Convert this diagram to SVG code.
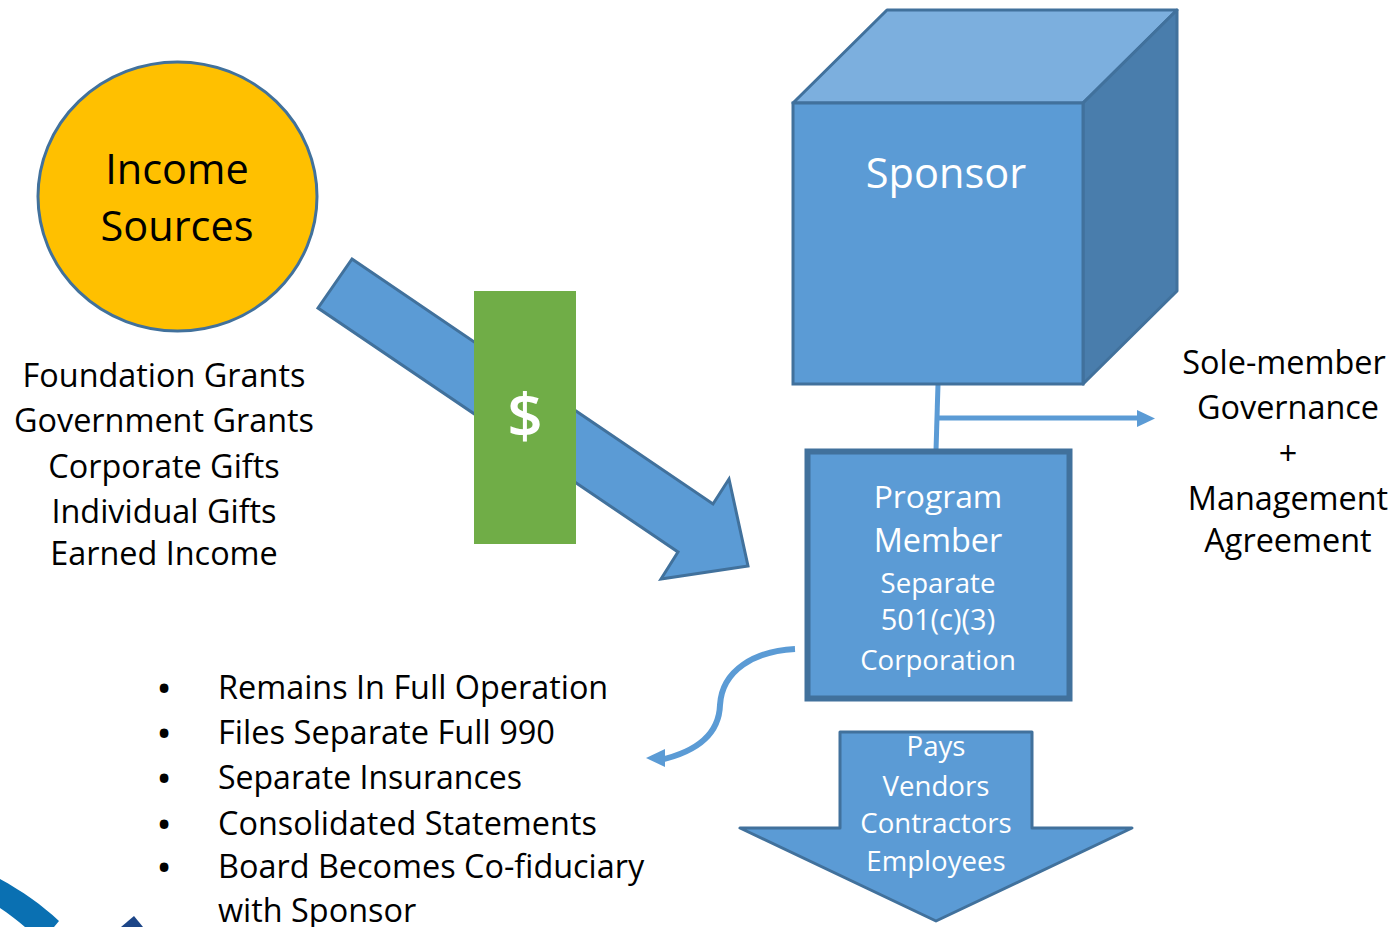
<svg xmlns="http://www.w3.org/2000/svg" width="1394" height="927" viewBox="0 0 1394 927">
<style>
text{font-family:"Open Sans","Noto Sans","Liberation Sans",sans-serif;text-anchor:middle}
.d{fill:#000;font-size:32.400px}
.w{fill:#fff}
.h{font-size:41.500px}
.m{font-size:27.600px}
.b{fill:#5B9BD5;stroke:#41719C;stroke-width:3;stroke-linejoin:miter}
.l{text-anchor:start;fill:#000;font-size:32.400px}
.u{fill:#000;font-size:31px;font-weight:700}
.c{fill:none;stroke:#5B9BD5;stroke-width:5}
.t{fill:#5B9BD5}
</style>
<rect width="1394" height="927" fill="#fff"/>
<g id="logo"><path d="M0 879C22 891 42 905 59 921L54 927H25C17 920 9 914 0 908Z" fill="#0A70B2"/><path d="M121 927L134 916L143 927Z" fill="#1C4587"/></g>
<g id="income"><ellipse cx="177.500" cy="196.500" rx="139.500" ry="134.500" fill="#FFC000" stroke="#41719C" stroke-width="3"/><text class="d h" x="177" y="184">Income</text><text class="d h" x="177" y="241">Sources</text></g>
<g id="sources-text"><text class="d" x="164" y="387">Foundation Grants</text><text class="d" x="164" y="432">Government Grants</text><text class="d" x="164" y="478">Corporate Gifts</text><text class="d" x="164" y="523">Individual Gifts</text><text class="d" x="164" y="565">Earned Income</text></g>
<g id="connectors">
<path class="b" d="M352 259L713 504L729 479L748 566L661 579L678 552L318 308Z"/>
<path class="c" d="M938 384L936 451"/>
<path class="c" d="M938 418H1140"/><path class="t" d="M1137 410L1155 418.500L1137 427Z"/>
<path class="c" style="stroke-width:6" d="M795 649C755 651 722 670 720 705C719 735 695 752 660 760"/><path class="t" d="M665 749L646 758L665 767Z"/>
</g>
<g id="dollar"><rect x="474" y="291" width="102" height="253" fill="#70AD47"/><text class="w" x="525" y="438" style="font-size:62px;font-weight:600">$</text></g>
<g id="sponsor">
<path d="M793 103L887 10H1177L1083 103Z" fill="#7CAFDE" stroke="#41719C" stroke-width="3" stroke-linejoin="round"/>
<path d="M1083 103L1177 10V291L1083 384Z" fill="#497DAC" stroke="#41719C" stroke-width="3" stroke-linejoin="round"/>
<rect class="b" x="793" y="103" width="290" height="281"/>
<text class="w h" x="946" y="188">Sponsor</text></g>
<g id="governance"><text class="d" x="1284" y="374">Sole-member</text><text class="d" x="1288" y="419">Governance</text><text class="d" x="1288" y="465">+</text><text class="d" x="1288" y="510">Management</text><text class="d" x="1288" y="552">Agreement</text></g>
<g id="program"><rect x="807.500" y="451.500" width="262" height="247" fill="#5B9BD5" stroke="#41719C" stroke-width="6"/>
<text class="w" x="938" y="508" style="font-size:31.800px">Program</text><text class="w" x="938" y="552" style="font-size:32.400px">Member</text><text class="w m" x="938" y="593">Separate</text><text class="w" x="938" y="630" style="font-size:29px">501(c)(3)</text><text class="w m" x="938" y="670">Corporation</text></g>
<g id="bullets">
<text class="u" x="164" y="699">•</text><text class="l" x="218" y="699">Remains In Full Operation</text>
<text class="u" x="164" y="744">•</text><text class="l" x="218" y="744" textLength="337" lengthAdjust="spacingAndGlyphs">Files Separate Full 990</text>
<text class="u" x="164" y="789">•</text><text class="l" x="218" y="789" textLength="304" lengthAdjust="spacingAndGlyphs">Separate Insurances</text>
<text class="u" x="164" y="835">•</text><text class="l" x="218" y="835">Consolidated Statements</text>
<text class="u" x="164" y="878">•</text><text class="l" x="218" y="878">Board Becomes Co-fiduciary</text>
<text class="l" x="218" y="922">with Sponsor</text></g>
<g id="pays"><path class="b" d="M840 732H1032V828H1132L936 921L740 828H840Z" style="stroke-linejoin:round"/>
<text class="w m" x="936" y="756">Pays</text><text class="w m" x="936" y="796">Vendors</text><text class="w m" x="936" y="833">Contractors</text><text class="w m" x="936" y="871">Employees</text></g>
</svg>
